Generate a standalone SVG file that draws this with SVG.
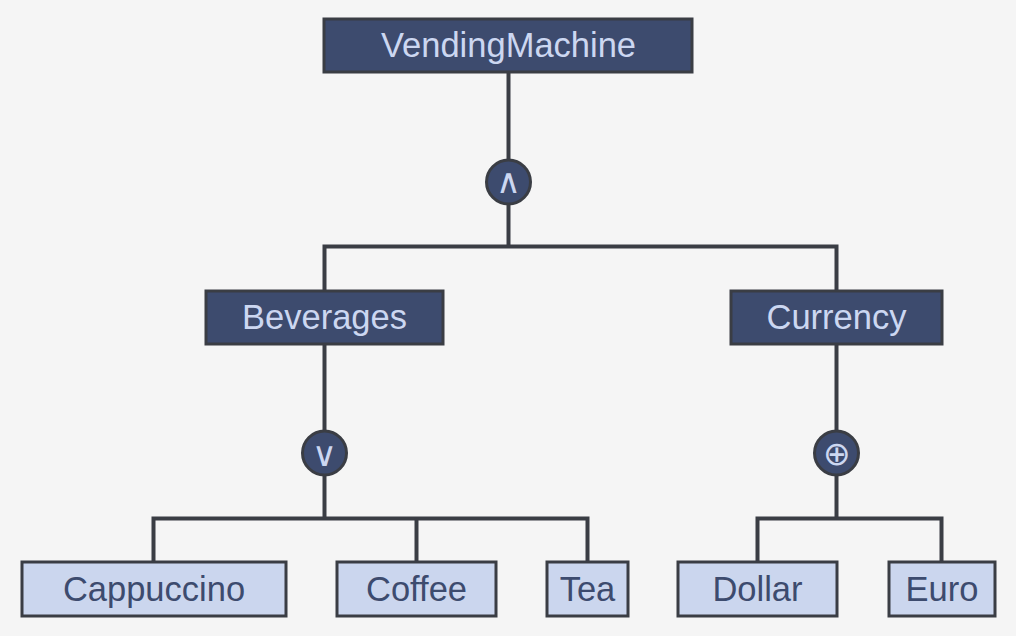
<svg xmlns="http://www.w3.org/2000/svg" width="1016" height="636" viewBox="0 0 1016 636">
<style>
.bg{fill:#f5f5f5}
.dark rect{fill:#3d4b6e;stroke:#3a3d44;stroke-width:3}
.light rect{fill:#cbd6ee;stroke:#3a3d44;stroke-width:3}
.dark text{fill:#ccd7f1}
.light text{fill:#3d4b6e}
text{font-family:"Liberation Sans",Arial,Helvetica,sans-serif;font-size:34.5px;text-anchor:middle}
.op circle{fill:#3d4b6e;stroke:#3a3d44;stroke-width:3}
.op text{fill:#ccd7f1;font-family:"DejaVu Sans",sans-serif;font-size:34px;font-weight:200}
.op text.x{font-size:33px}
.conn path{fill:none;stroke:#3a3d44;stroke-width:4}
</style>
<rect class="bg" x="0" y="0" width="1016" height="636"/>
<g id="connectors" class="conn">
<path d="M508.5 72 V159"/>
<path d="M508.5 205 V246.5"/>
<path d="M324.5 291 V246.5 H836.5 V291"/>
<path d="M324.5 344 V430"/>
<path d="M324.5 475 V518.5"/>
<path d="M153.5 562 V518.5 H587.5 V562"/>
<path d="M416.5 518.5 V562"/>
<path d="M836.5 344 V430"/>
<path d="M836.5 475 V518.5"/>
<path d="M757.5 562 V518.5 H941.5 V562"/>
</g>
<g id="VendingMachine" class="dark"><rect x="324" y="19" width="368" height="53"/><text x="508.5" y="57">VendingMachine</text></g>
<g id="op-and" class="op"><circle cx="508.5" cy="182" r="22"/><text x="508.5" y="193">∧</text></g>
<g id="Beverages" class="dark"><rect x="206" y="291" width="237" height="53"/><text x="324.5" y="329">Beverages</text></g>
<g id="Currency" class="dark"><rect x="731" y="291" width="211" height="53"/><text x="836.5" y="329">Currency</text></g>
<g id="op-or" class="op"><circle cx="324.5" cy="453" r="22"/><text x="324.5" y="466">∨</text></g>
<g id="op-xor" class="op"><circle cx="836.5" cy="453" r="22"/><text class="x" x="836.5" y="465">⊕</text></g>
<g id="Cappuccino" class="light"><rect x="22" y="562" width="264" height="54"/><text x="154" y="601">Cappuccino</text></g>
<g id="Coffee" class="light"><rect x="337" y="562" width="159" height="54"/><text x="416.5" y="601">Coffee</text></g>
<g id="Tea" class="light"><rect x="547" y="562" width="81" height="54"/><text x="587.5" y="601">Tea</text></g>
<g id="Dollar" class="light"><rect x="678" y="562" width="159" height="54"/><text x="757.5" y="601">Dollar</text></g>
<g id="Euro" class="light"><rect x="889" y="562" width="106" height="54"/><text x="942" y="601">Euro</text></g>
</svg>
